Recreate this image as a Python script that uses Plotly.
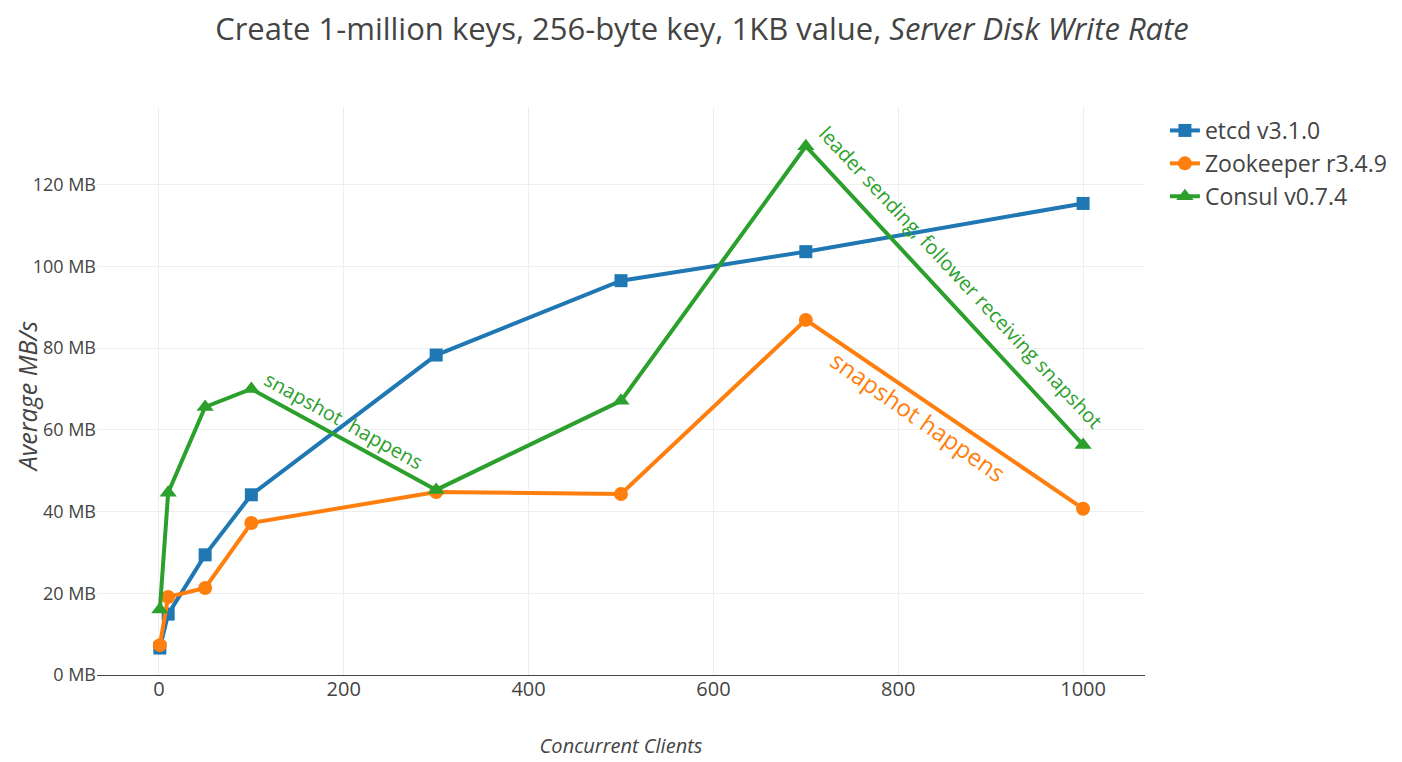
import plotly.graph_objects as go

clients = [1, 10, 50, 100, 300, 500, 700, 1000]
etcd = [6.6, 14.9, 29.4, 44.1, 78.3, 96.5, 103.6, 115.4]
zookeeper = [7.3, 19.1, 21.3, 37.2, 44.8, 44.3, 86.9, 40.7]
consul = [16.0, 44.6, 65.6, 70.0, 45.3, 67.1, 129.4, 56.3]

names = ["etcd v3.1.0", "Zookeeper r3.4.9", "Consul v0.7.4"]
colors = ["#1f77b4", "#ff7f0e", "#2ca02c"]
symbols = ["square", "circle", "triangle-up"]
msizes = [13, 14, 15]
series = [etcd, zookeeper, consul]

FONT = "Open Sans"
fig = go.Figure()
for n, c, s, ms, ys in zip(names, colors, symbols, msizes, series):
    fig.add_trace(go.Scatter(
        x=clients, y=ys, name=n, mode="lines+markers",
        line=dict(color=c, width=4),
        marker=dict(symbol=s, size=ms, color=c),
    ))

fig.update_layout(
    width=1402, height=762,
    paper_bgcolor="white", plot_bgcolor="white",
    font=dict(family=FONT, color="#444"),
    title=dict(
        text="Create 1-million keys, 256-byte key, 1KB value, <i>Server Disk Write Rate</i>",
        x=0.495, xanchor="center", y=0.972, yanchor="middle",
        font=dict(family=FONT, size=31, color="#444"),
    ),
    margin=dict(l=89, r=265, t=99, b=95, autoexpand=False),
    xaxis=dict(
        range=[-67, 1067], showgrid=True, gridcolor="#eee", zeroline=False,
        tickmode="linear", tick0=0, dtick=200, automargin=False,
        tickfont=dict(size=20, color="#444"),
        title=dict(text="<i>Concurrent Clients</i>", font=dict(size=20, color="#444"), standoff=37),
    ),
    yaxis=dict(
        range=[0, 139], showgrid=True, gridcolor="#eee",
        zeroline=True, zerolinecolor="#444", zerolinewidth=1,
        tickmode="linear", tick0=0, dtick=20, ticksuffix=" MB", automargin=False,
        tickfont=dict(size=18, color="#444"),
    ),
    legend=dict(
        x=1.019, y=0.9965, xanchor="left", yanchor="top",
        font=dict(size=23, color="#444"), bgcolor="rgba(0,0,0,0)",
    ),
    showlegend=True,
)

# y-axis title placed at the reference position
fig.add_annotation(
    x=-0.0672, y=0.49, xref="paper", yref="paper", text="<i>Average MB/s</i>",
    showarrow=False, textangle=-90, xanchor="center", yanchor="middle",
    font=dict(family=FONT, size=25, color="#444"),
)

annots = [
    dict(x=200, y=62.3, text="snapshot  happens", textangle=29, color="#2ca02c", size=20),
    dict(x=868, y=97.3, text="leader sending, follower receiving snapshot", textangle=47, color="#2ca02c", size=20),
    dict(x=822, y=63.3, text="snapshot happens", textangle=35, color="#ff7f0e", size=24),
]
for a in annots:
    fig.add_annotation(
        x=a["x"], y=a["y"], xref="x", yref="y", text=a["text"], showarrow=False,
        textangle=a["textangle"], font=dict(family=FONT, size=a["size"], color=a["color"]),
    )

fig.write_html("out.html")
